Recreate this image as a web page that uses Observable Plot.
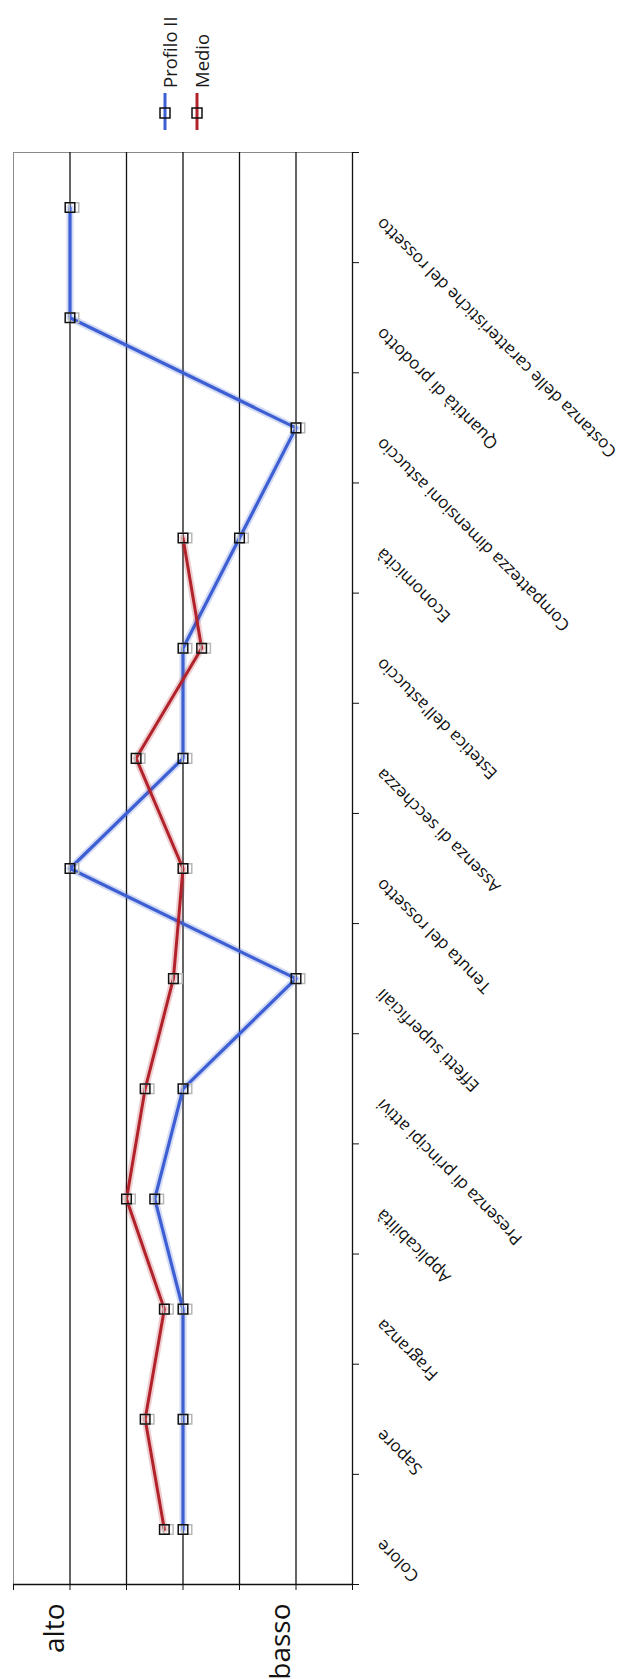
<!DOCTYPE html>
<html>
<head>
<meta charset="utf-8">
<script src="https://cdn.jsdelivr.net/npm/d3@7"></script>
<script src="https://cdn.jsdelivr.net/npm/@observablehq/plot@0.6"></script>
<style>
  html, body { margin: 0; padding: 0; background: #fff; }
  #chart { position: relative; width: 643px; height: 1679px; }
  #chart > svg { display: block; }
  #legend { position: absolute; left: 0; top: 0; }
</style>
</head>
<body>
<div id="chart"></div>
<script>
// Product attributes, listed from the bottom of the chart to the top
const categories = [
  "Colore",
  "Sapore",
  "Fragranza",
  "Applicabilità",
  "Presenza di principi attivi",
  "Effetti superficiali",
  "Tenuta del rossetto",
  "Assenza di secchezza",
  "Estetica dell'astuccio",
  "Economicità",
  "Compattezza dimensioni astuccio",
  "Quantità di prodotto",
  "Costanza delle caratteristiche del rossetto"
];

// Scores (1 = basso … 5 = alto)
const profiloII = [3, 3, 3, 3.5, 3, 1, 5, 3, 3, 2, 1, 5, 5];
const medio = [3.33, 3.67, 3.33, 4, 3.67, 3.17, 3, 3.83, 2.67, 3];

const seriesNames = ["Profilo II", "Medio"];
const seriesColors = ["#3d5fd3", "#b2222a"];

// Labelled positions on the score axis
const tickValues = [5, 1];
const tickLabels = ["alto", "basso"];

const rows = (values) => values.map((v, i) => ({cat: categories[i], i: i + 0.5, v}));
const rowsP = rows(profiloII);
const rowsM = rows(medio);

const font = "'Open Sans', 'Noto Sans', sans-serif";

const seriesMarks = (data, color, core) => [
  Plot.line(data, {x: "v", y: "i", stroke: color, strokeWidth: core + 4, strokeOpacity: 0.22}),
  Plot.line(data, {x: "v", y: "i", stroke: color, strokeWidth: core}),
  Plot.dot(data, {x: "v", y: "i", symbol: "square", r: 5.4, dx: 4, stroke: "#b8b8b8", strokeWidth: 1.5, fill: "none"}),
  Plot.dot(data, {x: "v", y: "i", symbol: "square", r: 5.4, stroke: "#111", strokeWidth: 1.5, fill: "none"})
];

const chart = Plot.plot({
  width: 643,
  height: 1679,
  marginTop: 152,
  marginBottom: 95,
  marginLeft: 13,
  marginRight: 291,
  style: {fontFamily: font, background: "white", overflow: "visible"},
  x: {domain: [6, 0], axis: null},
  y: {domain: [0, categories.length], axis: null},
  marks: [
    // plot area border
    Plot.ruleX([6], {stroke: "#8a8a8a"}),
    Plot.ruleY([categories.length], {stroke: "#8a8a8a"}),
    // gridlines
    Plot.ruleX([1, 2, 3, 4, 5], {stroke: "#111", strokeWidth: 1.3}),
    // score axis
    Plot.axisX({anchor: "bottom", ticks: d3.range(0, 7), tickFormat: () => "", tickSize: 6, label: null, stroke: "#111"}),
    Plot.ruleY([0], {stroke: "#111", strokeWidth: 1.3}),
    Plot.text(tickLabels, {
      x: tickValues, frameAnchor: "bottom", text: (d) => d,
      rotate: -90, textAnchor: "end", dy: 19, dx: -6,
      fontSize: 28, fill: "#111"
    }),
    // category axis
    Plot.axisY({anchor: "right", ticks: d3.range(0, categories.length + 1), tickFormat: () => "", tickSize: 6, label: null, stroke: "#111"}),
    Plot.ruleX([0], {stroke: "#111", strokeWidth: 1.3}),
    Plot.text(categories, {
      y: (d, i) => i + 0.5, frameAnchor: "right", text: (d) => d,
      rotate: -135, textAnchor: "end", dx: 27, dy: 13,
      fontSize: 17, fill: "#111",
      letterSpacing: "0.5px"
    }),
    // series
    ...seriesMarks(rowsP, seriesColors[0], 3.2),
    ...seriesMarks(rowsM, seriesColors[1], 3)
  ]
});

const container = document.getElementById("chart");
container.appendChild(chart);

// Legend: line + marker with the series name, set vertically like the chart
const legend = d3.create("svg")
  .attr("id", "legend")
  .attr("width", 643)
  .attr("height", 140)
  .style("font-family", font);

seriesNames.forEach((name, k) => {
  const x = 165 + k * 32;
  const g = legend.append("g");
  g.append("line")
    .attr("x1", x).attr("x2", x)
    .attr("y1", 93).attr("y2", 130)
    .attr("stroke", seriesColors[k]).attr("stroke-width", 3);
  g.append("rect")
    .attr("x", x - 5).attr("y", 108)
    .attr("width", 10).attr("height", 10)
    .attr("fill", "none").attr("stroke", "#111").attr("stroke-width", 1.5);
  g.append("text")
    .attr("transform", `translate(${x + 11.5},88) rotate(-90)`)
    .attr("text-anchor", "start")
    .attr("font-size", 18.5)
    .attr("fill", "#1a1a1a")
    .text(name);
});

container.appendChild(legend.node());
</script>
</body>
</html>
